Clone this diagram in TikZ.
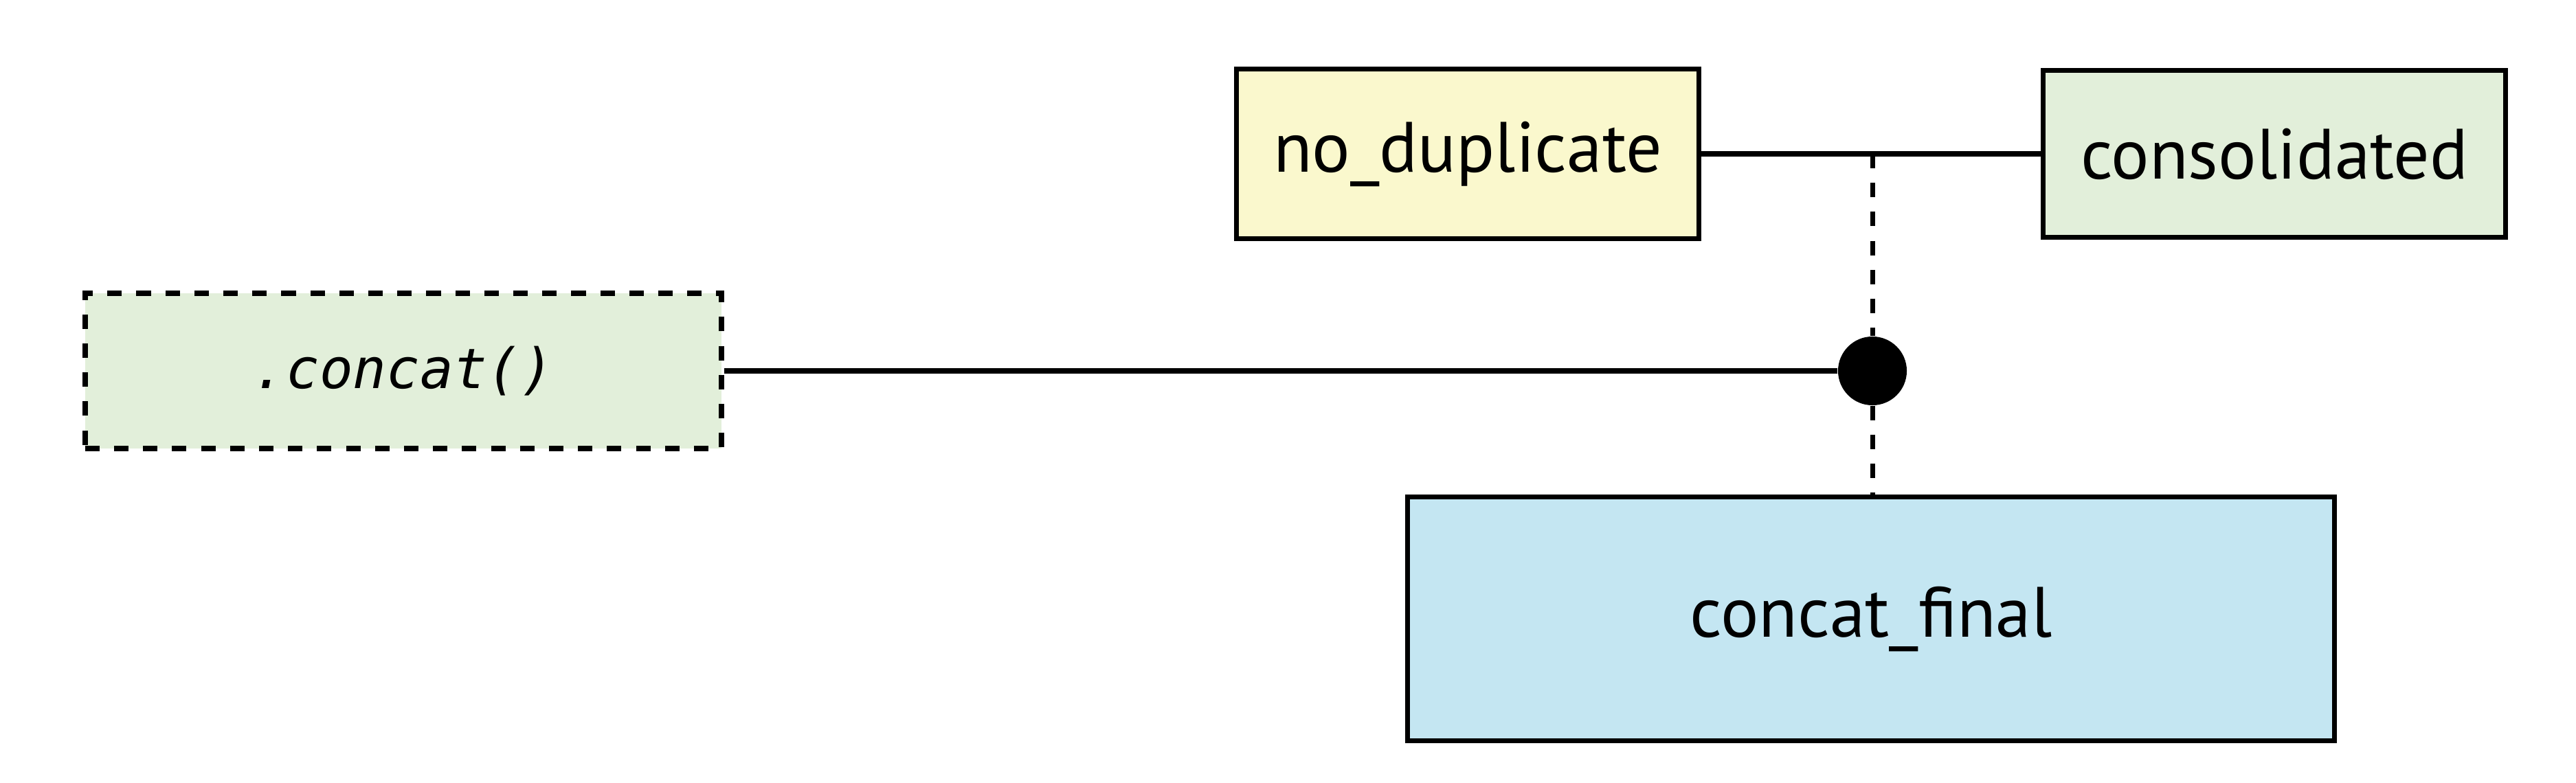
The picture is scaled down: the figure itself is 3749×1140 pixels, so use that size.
\documentclass[tikz,border=0pt]{standalone}
\usepackage{fontspec}
\setmainfont{PT Sans}
\setmonofont{DejaVu Sans Mono}
\usetikzlibrary{shapes.geometric, positioning}
\definecolor{ndyellow}{RGB}{250,248,205}
\definecolor{csgreen}{RGB}{226,239,218}
\definecolor{cfblue}{RGB}{196,230,242}
\tikzstyle{table} = [
  rectangle,
  text centered,
  draw=black,
  line width=2pt,
  font=\fontsize{29.5}{34}\selectfont
]
\tikzstyle{method} = [
  rectangle,
  text centered,
  draw=black,
  dash pattern=on 6pt off 6pt,
  line width=2.2pt,
  fill=csgreen,
  font=\fontsize{23}{28}\selectfont\ttfamily\itshape
]
\tikzstyle{link} = [line width=2pt]
\tikzstyle{dashlink} = [line width=2pt, dash pattern=on 6pt off 6pt]
\tikzstyle{joint} = [circle, fill=black, inner sep=0pt, minimum size=1cm]

\begin{document}
\begin{tikzpicture}[x=0.01cm, y=-0.01cm]
    \useasboundingbox (0,0) rectangle (3749,1140);
    \node (no-duplicate) [table, fill=ndyellow, minimum width=6.72cm, minimum height=2.46cm] at (2136,224) {no\_duplicate};
    \node (consolidated) [table, fill=csgreen, minimum width=6.72cm, minimum height=2.42cm] at (3310,224) {consolidated};
    \node (concat-method) [method, minimum width=9.26cm, minimum height=2.26cm] at (587,540) {.concat()};
    \node (concat-final) [table, fill=cfblue, minimum width=13.48cm, minimum height=3.54cm] at (2723,901) {concat\_final};
    \node (joint) [joint] at (2725,540) {};
    \coordinate (split) at (2725,224);

    \draw [link] (no-duplicate) -- (consolidated);
    \draw [dashlink] (split) -- (joint);
    \draw [dashlink] (joint) -- (joint |- concat-final.north);
    \draw [link] (concat-method) -- (joint);
  \end{tikzpicture}
\end{document}
